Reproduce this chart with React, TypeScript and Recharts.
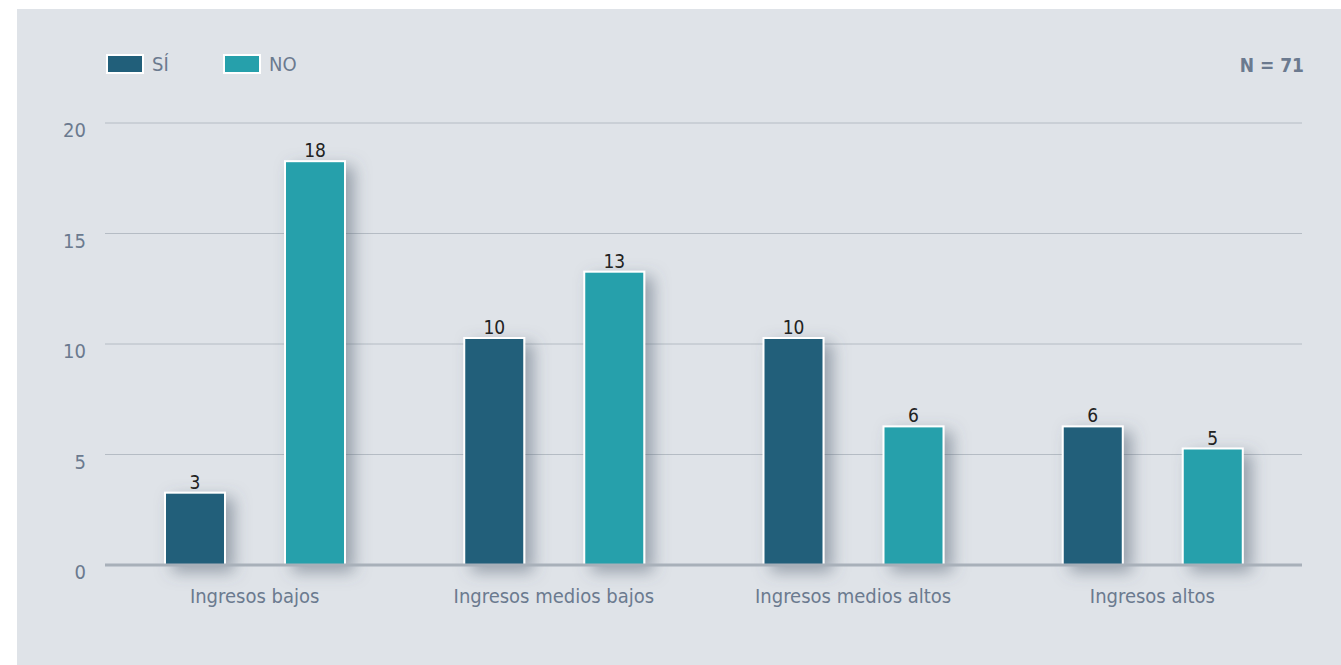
import React from 'react';
import { BarChart, Bar, XAxis, YAxis, CartesianGrid, LabelList } from 'recharts';

const categories = ['Ingresos bajos', 'Ingresos medios bajos', 'Ingresos medios altos', 'Ingresos altos'];
const siValues = [3, 10, 10, 6];
const noValues = [18, 13, 6, 5];
const yTicks = [0, 5, 10, 15, 20];
const seriesNames = ['SÍ', 'NO'];
const sampleNote = 'N = 71';

const data = categories.map((c, i) => ({ name: c, si: siValues[i], no: noValues[i] }));

const FONT = "'DejaVu Sans Condensed', 'Liberation Sans Narrow', Roboto, sans-serif";
const C_SI = '#215f7a';
const C_NO = '#26a0ab';
const TXT = '#6b7a8f';
const LIFT = 6;

const BarShape = (props: any) => {
  const { x, y, width, height, fill } = props;
  if (width == null || height == null) return null;
  return (
    <rect
      x={x}
      y={y - LIFT}
      width={width}
      height={height + LIFT}
      fill={fill}
      stroke="#ffffff"
      strokeWidth={2}
      filter="url(#barShadow)"
    />
  );
};

const ValueLabel = (props: any) => {
  const { x, y, width, value } = props;
  return (
    <text x={x + width / 2} y={y - LIFT - 4} textAnchor="middle" fill="#222222" fontSize={19} fontFamily={FONT}>
      {value}
    </text>
  );
};

const YTick = (props: any) => {
  const { x, y, payload } = props;
  return (
    <text x={x} y={y + 7} textAnchor="end" dominantBaseline="central" fill={TXT} fontSize={20} fontFamily={FONT}>
      {payload.value}
    </text>
  );
};

const XTick = (props: any) => {
  const { x, y, payload } = props;
  return (
    <text x={x} y={y + 23} textAnchor="middle" dominantBaseline="central" fill={TXT} fontSize={20} fontFamily={FONT}>
      {payload.value}
    </text>
  );
};

const LegendBlock = () => {
  const colors = [C_SI, C_NO];
  const xs = [89, 206];
  return (
    <>
      {seriesNames.map((n, i) => (
        <div key={n} style={{ position: 'absolute', left: xs[i], top: 45, display: 'flex', alignItems: 'center' }}>
          <div style={{ width: 34, height: 16, background: colors[i], border: '2px solid #ffffff' }} />
          <span style={{ marginLeft: 8, fontFamily: FONT, fontSize: 20, color: TXT, lineHeight: '20px' }}>{n}</span>
        </div>
      ))}
    </>
  );
};

export default function App() {
  return (
    <div style={{ position: 'absolute', left: 0, top: 0, width: 1341, height: 665, background: '#ffffff', overflow: 'hidden' }}>
      <svg width={0} height={0} style={{ position: 'absolute' }}>
        <defs>
          <filter id="barShadow" filterUnits="userSpaceOnUse" x={0} y={0} width={1400} height={700}>
            <feDropShadow dx={8} dy={6} stdDeviation={8} floodColor="#4f5d6e" floodOpacity={0.5} />
          </filter>
        </defs>
      </svg>
      <div style={{ position: 'absolute', left: 17, top: 9, width: 1324, height: 656, background: '#dfe3e8' }}>
        <LegendBlock />
        <div
          style={{
            position: 'absolute',
            right: 37,
            top: 45,
            fontFamily: FONT,
            fontSize: 19,
            fontWeight: 'bold',
            color: TXT,
          }}
        >
          {sampleNote}
        </div>
        <BarChart
          width={1324}
          height={656}
          data={data}
          margin={{ top: 114, right: 39, left: 28, bottom: 60 }}
          barSize={60}
          barGap={60}
        >
          <CartesianGrid horizontal vertical={false} stroke="#b5bcc4" strokeWidth={1} />
          <XAxis
            dataKey="name"
            height={40}
            axisLine={{ stroke: '#a8b0b9', strokeWidth: 3 }}
            tickLine={false}
            tick={<XTick />}
            interval={0}
          />
          <YAxis
            width={60}
            domain={[0, 20]}
            ticks={yTicks}
            axisLine={false}
            tickLine={false}
            tickSize={0}
            tickMargin={19}
            tick={<YTick />}
          />
          <Bar dataKey="si" name={seriesNames[0]} fill={C_SI} shape={<BarShape />} isAnimationActive={false}>
            <LabelList dataKey="si" content={<ValueLabel />} />
          </Bar>
          <Bar dataKey="no" name={seriesNames[1]} fill={C_NO} shape={<BarShape />} isAnimationActive={false}>
            <LabelList dataKey="no" content={<ValueLabel />} />
          </Bar>
        </BarChart>
      </div>
    </div>
  );
}
